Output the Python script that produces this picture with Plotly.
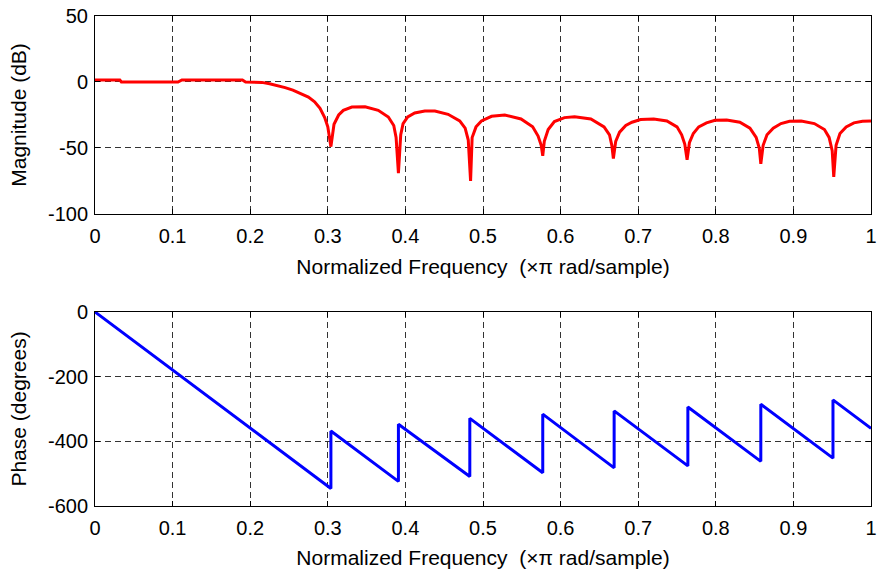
import plotly.graph_objects as go
from plotly.subplots import make_subplots

# Magnitude response
freq_mag = [0.0, 0.032, 0.034, 0.107, 0.112, 0.19, 0.194,
            0.215, 0.225, 0.235, 0.245, 0.255, 0.265, 0.275, 0.283, 0.29, 0.296, 0.3, 0.304,
            0.308, 0.314, 0.32, 0.331, 0.348, 0.365, 0.378, 0.385, 0.388, 0.391,
            0.394, 0.397, 0.403, 0.412, 0.425, 0.438, 0.455, 0.47, 0.477, 0.481, 0.484,
            0.486, 0.491, 0.498, 0.511, 0.528, 0.549, 0.564, 0.571, 0.575, 0.577,
            0.579, 0.584, 0.592, 0.605, 0.618, 0.639, 0.656, 0.663, 0.666, 0.668,
            0.671, 0.676, 0.684, 0.692, 0.703, 0.72, 0.737, 0.75, 0.756, 0.76, 0.763,
            0.766, 0.771, 0.778, 0.788, 0.799, 0.814, 0.831, 0.844, 0.852, 0.856, 0.858,
            0.861, 0.866, 0.874, 0.884, 0.895, 0.91, 0.927, 0.94, 0.946, 0.95, 0.952,
            0.955, 0.96, 0.968, 0.978, 0.989, 1.0]
mag_db = [1.5, 1.5, 0.0, 0.0, 1.5, 1.5, 0.0,
          -0.3, -1.3, -2.7, -4.3, -6.2, -8.6, -11.5, -15.0, -20.0, -27.0, -34.0, -49.0,
          -32.0, -25.0, -21.5, -19.0, -18.8, -21.5, -26.5, -33.0, -42.0, -69.0,
          -40.0, -31.6, -26.5, -23.5, -22.0, -22.0, -24.5, -29.5, -35.0, -44.0, -75.0,
          -42.0, -34.0, -29.5, -26.0, -25.0, -28.0, -34.0, -41.0, -48.0, -56.0,
          -45.0, -36.0, -30.0, -27.0, -26.3, -28.0, -34.0, -40.0, -48.0, -58.0,
          -45.0, -38.0, -33.0, -30.5, -28.5, -28.0, -29.5, -34.0, -40.0, -47.0, -59.0,
          -46.0, -39.0, -34.0, -31.0, -29.0, -28.8, -30.5, -35.0, -42.0, -50.0, -62.0,
          -48.0, -40.0, -35.0, -31.5, -29.8, -29.5, -31.5, -36.0, -42.0, -52.0, -72.0,
          -48.0, -39.0, -34.0, -31.0, -29.8, -29.5]

# Phase response
freq_ph = [0.0, 0.304, 0.304, 0.391, 0.391, 0.483, 0.483, 0.577, 0.577,
           0.669, 0.669, 0.764, 0.764, 0.858, 0.858, 0.951, 0.951, 1.0]
phase_deg = [0, -546, -368, -524, -347, -509, -329, -497, -316,
             -482, -306, -476, -294, -462, -285, -452, -272, -360]

x_ticks = [0, 0.1, 0.2, 0.3, 0.4, 0.5, 0.6, 0.7, 0.8, 0.9, 1]
x_ticklabels = ["0", "0.1", "0.2", "0.3", "0.4", "0.5", "0.6", "0.7", "0.8", "0.9", "1"]
mag_ticks = [-100, -50, 0, 50]
mag_ticklabels = ["-100", "-50", "0", "50"]
phase_ticks = [-600, -400, -200, 0]
phase_ticklabels = ["-600", "-400", "-200", "0"]

FONT = "Liberation Sans, Arial, sans-serif"
TICKFONT = dict(size=20, color="black", family=FONT)
TITLEFONT = dict(size=21, color="black", family=FONT)

fig = make_subplots(rows=2, cols=1, vertical_spacing=0.2)
fig.add_trace(go.Scatter(x=freq_mag, y=mag_db, mode="lines",
                         line=dict(color="#ff0000", width=3), showlegend=False), row=1, col=1)
fig.add_trace(go.Scatter(x=freq_ph, y=phase_deg, mode="lines",
                         line=dict(color="#0000ff", width=3), showlegend=False), row=2, col=1)

axis_common = dict(showline=True, linecolor="black", linewidth=1, mirror="ticks",
                   ticks="inside", ticklen=5, tickcolor="black", automargin=False,
                   showgrid=True, gridcolor="#333333", griddash="6px,4px", gridwidth=1,
                   zeroline=False, tickfont=TICKFONT, ticklabeloverflow="allow")

xtitle = "Normalized Frequency  (×π rad/sample)"
fig.update_xaxes(range=[0, 1], tickvals=x_ticks, ticktext=x_ticklabels,
                 ticklabelstandoff=4,
                 title=dict(text=xtitle, font=TITLEFONT, standoff=13),
                 **axis_common)
fig.update_yaxes(**axis_common)
fig.update_yaxes(range=[-100, 50], tickvals=mag_ticks, ticktext=mag_ticklabels,
                 ticklabelstandoff=2,
                 title=dict(text="Magnitude (dB)", font=TITLEFONT, standoff=15),
                 row=1, col=1)
fig.update_yaxes(range=[-600, 0], tickvals=phase_ticks, ticktext=phase_ticklabels,
                 ticklabelstandoff=2,
                 title=dict(text="Phase (degrees)", font=TITLEFONT, standoff=15),
                 row=2, col=1)

fig.update_layout(
    width=879, height=569,
    margin=dict(l=95, r=8, t=16, b=63),
    paper_bgcolor="white", plot_bgcolor="white",
    font=dict(family=FONT, color="black"),
)
fig.update_layout(yaxis=dict(domain=[0.596, 1.0]), yaxis2=dict(domain=[0.0, 0.396]))

fig.write_html("out.html", config={"displayModeBar": False},
               post_script="document.body.style.margin='0';document.body.style.padding='0';")
